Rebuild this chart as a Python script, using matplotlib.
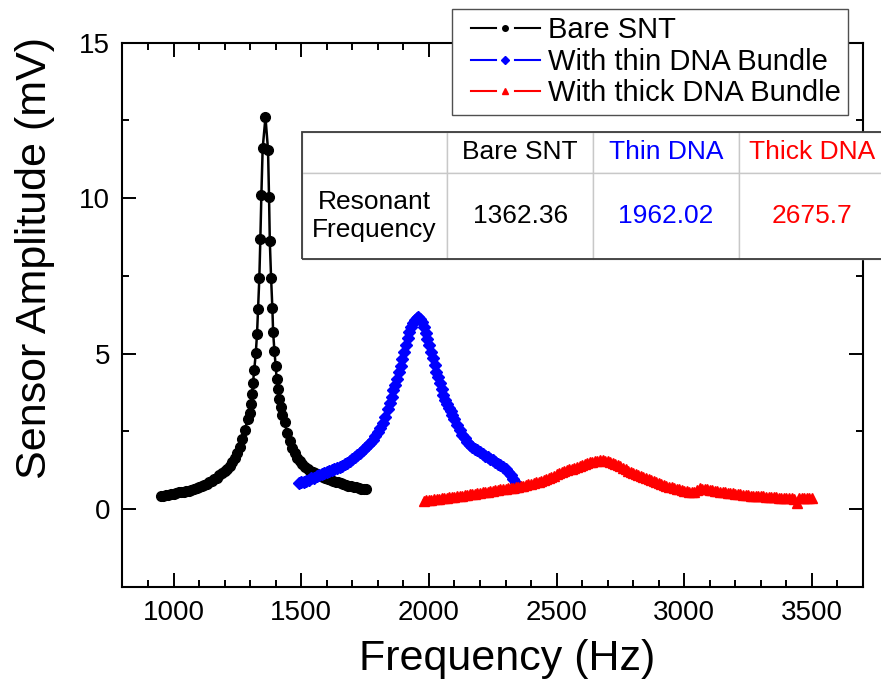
import matplotlib
matplotlib.use("Agg")
import matplotlib.pyplot as plt
from matplotlib.lines import Line2D
from matplotlib.legend_handler import HandlerBase
from matplotlib.patches import Rectangle
from matplotlib.ticker import MultipleLocator

plt.rcParams['font.family'] = ['Liberation Sans', 'DejaVu Sans']

# ---- data (Hz, mV) ----
bare_freq = [950, 960, 970, 980, 990, 1000, 1010, 1020, 1030, 1040,
             1050, 1060, 1070, 1080, 1090, 1100, 1110, 1120, 1130, 1140,
             1150, 1160, 1170, 1180, 1190, 1200, 1210, 1220, 1230, 1240,
             1250, 1260, 1270, 1280, 1290, 1298, 1302, 1307, 1311, 1316,
             1322, 1327, 1331, 1336, 1340, 1344, 1349, 1360, 1370, 1374,
             1377, 1382, 1387, 1390, 1395, 1400, 1404, 1409, 1414, 1420,
             1425, 1435, 1445, 1455, 1465, 1475, 1485, 1495, 1505, 1515,
             1525, 1535, 1545, 1555, 1565, 1575, 1585, 1595, 1605, 1615,
             1625, 1635, 1645, 1655, 1665, 1675, 1685, 1695, 1705, 1715,
             1725, 1735, 1745, 1752]
bare_amp = [0.42, 0.44, 0.45, 0.47, 0.49, 0.50, 0.52, 0.54, 0.55, 0.57,
            0.58, 0.60, 0.62, 0.65, 0.68, 0.71, 0.74, 0.78, 0.82, 0.86,
            0.91, 0.96, 1.02, 1.09, 1.16, 1.24, 1.30, 1.40, 1.52, 1.65,
            1.80, 2.00, 2.25, 2.55, 2.90, 3.11, 3.38, 3.70, 4.05, 4.48,
            5.01, 5.64, 6.44, 7.44, 8.70, 10.11, 11.60, 12.60, 11.56, 10.04,
            8.62, 7.44, 6.47, 5.69, 5.10, 4.60, 4.19, 3.87, 3.54, 3.30,
            3.04, 2.80, 2.45, 2.20, 1.98, 1.80, 1.66, 1.55, 1.45, 1.37,
            1.30, 1.24, 1.19, 1.15, 1.10, 1.06, 1.03, 1.00, 0.97, 0.94,
            0.91, 0.88, 0.86, 0.83, 0.81, 0.78, 0.76, 0.74, 0.72, 0.70,
            0.68, 0.66, 0.65, 0.64]

thin_freq = [1490, 1500, 1510, 1520, 1530, 1540, 1550, 1560, 1570, 1580,
             1590, 1600, 1610, 1620, 1630, 1640, 1650, 1660, 1670, 1680,
             1690, 1700, 1710, 1720, 1730, 1740, 1750, 1760, 1770, 1780,
             1790, 1800, 1810, 1820, 1830, 1840, 1847, 1854, 1861, 1868,
             1875, 1882, 1889, 1896, 1903, 1910, 1917, 1924, 1931, 1938,
             1945, 1952, 1959, 1966, 1973, 1980, 1987, 1994, 2001, 2008,
             2015, 2022, 2029, 2036, 2043, 2050, 2057, 2064, 2071, 2078,
             2085, 2092, 2100, 2110, 2120, 2130, 2140, 2150, 2160, 2170,
             2180, 2190, 2200, 2210, 2220, 2230, 2240, 2250, 2260, 2270,
             2280, 2290, 2300, 2310, 2320, 2330, 2340, 2347]
thin_amp = [0.83, 0.86, 0.89, 0.92, 0.95, 0.99, 1.02, 1.06, 1.09, 1.13,
            1.16, 1.19, 1.22, 1.25, 1.28, 1.32, 1.35, 1.39, 1.44, 1.49,
            1.54, 1.60, 1.67, 1.74, 1.81, 1.89, 1.97, 2.05, 2.14, 2.23,
            2.35, 2.48, 2.62, 2.78, 2.98, 3.22, 3.42, 3.62, 3.82, 4.00,
            4.20, 4.40, 4.60, 4.82, 5.05, 5.28, 5.50, 5.70, 5.87, 6.00,
            6.09, 6.15, 6.17, 6.12, 6.02, 5.86, 5.67, 5.47, 5.27, 5.07,
            4.86, 4.63, 4.41, 4.24, 4.05, 3.86, 3.67, 3.51, 3.38, 3.27,
            3.15, 3.04, 2.90, 2.72, 2.55, 2.40, 2.28, 2.17, 2.08, 2.01,
            1.95, 1.89, 1.83, 1.78, 1.72, 1.67, 1.62, 1.57, 1.52, 1.47,
            1.42, 1.36, 1.28, 1.20, 1.10, 0.97, 0.83, 0.72]

thick_freq = [1980, 1990, 2000, 2010, 2020, 2030, 2040, 2050, 2060, 2070,
              2080, 2090, 2100, 2110, 2120, 2130, 2140, 2150, 2160, 2170,
              2180, 2190, 2200, 2210, 2220, 2230, 2240, 2250, 2260, 2270,
              2280, 2290, 2300, 2310, 2320, 2330, 2340, 2350, 2360, 2370,
              2380, 2390, 2400, 2410, 2420, 2430, 2440, 2450, 2460, 2470,
              2480, 2490, 2500, 2510, 2520, 2530, 2540, 2550, 2560, 2570,
              2580, 2590, 2600, 2610, 2620, 2630, 2640, 2650, 2660, 2670,
              2680, 2690, 2700, 2710, 2720, 2730, 2740, 2750, 2760, 2770,
              2780, 2790, 2800, 2810, 2820, 2830, 2840, 2850, 2860, 2870,
              2880, 2890, 2900, 2910, 2920, 2930, 2940, 2950, 2960, 2970,
              2980, 2990, 3000, 3010, 3020, 3030, 3040, 3050, 3060, 3070,
              3080, 3090, 3100, 3110, 3120, 3130, 3140, 3150, 3160, 3170,
              3180, 3190, 3200, 3210, 3220, 3230, 3240, 3250, 3260, 3270,
              3280, 3290, 3300, 3310, 3320, 3330, 3340, 3350, 3360, 3370,
              3380, 3390, 3400, 3410, 3420, 3430, 3440, 3450, 3460, 3470,
              3480, 3490, 3500]
thick_amp = [0.28, 0.29, 0.30, 0.31, 0.32, 0.33, 0.34, 0.35, 0.36, 0.37,
             0.38, 0.39, 0.40, 0.42, 0.43, 0.44, 0.45, 0.46, 0.48, 0.49,
             0.50, 0.52, 0.53, 0.54, 0.56, 0.57, 0.58, 0.60, 0.61, 0.63,
             0.64, 0.65, 0.66, 0.67, 0.68, 0.69, 0.71, 0.72, 0.74, 0.76,
             0.78, 0.80, 0.82, 0.84, 0.86, 0.88, 0.91, 0.94, 0.97, 1.00,
             1.04, 1.08, 1.12, 1.16, 1.19, 1.22, 1.25, 1.28, 1.31, 1.34,
             1.37, 1.40, 1.43, 1.46, 1.49, 1.51, 1.53, 1.55, 1.56, 1.57,
             1.57, 1.56, 1.54, 1.52, 1.49, 1.46, 1.42, 1.38, 1.34, 1.29,
             1.24, 1.20, 1.16, 1.12, 1.09, 1.06, 1.03, 1.00, 0.97, 0.94,
             0.91, 0.88, 0.85, 0.82, 0.79, 0.76, 0.73, 0.70, 0.68, 0.66,
             0.64, 0.62, 0.60, 0.58, 0.56, 0.54, 0.55, 0.62, 0.67, 0.66,
             0.65, 0.64, 0.62, 0.61, 0.60, 0.58, 0.57, 0.56, 0.54, 0.53,
             0.52, 0.51, 0.50, 0.49, 0.48, 0.47, 0.46, 0.45, 0.44, 0.43,
             0.43, 0.42, 0.41, 0.41, 0.40, 0.39, 0.39, 0.38, 0.38, 0.37,
             0.37, 0.36, 0.36, 0.35, 0.35, 0.34, 0.21, 0.35, 0.36, 0.36,
             0.37, 0.37, 0.37]

series_labels = ['Bare SNT', 'With thin DNA Bundle', 'With thick DNA Bundle']
series_colors = ['black', 'blue', 'red']
series_markers = ['o', 'D', '^']

table_cols = ['', 'Bare SNT', 'Thin DNA', 'Thick DNA']
table_row = ['Resonant\nFrequency', '1362.36', '1962.02', '2675.7']
table_colors = ['black', 'black', 'blue', 'red']


class GapLineHandler(HandlerBase):
    # Origin style legend key: line - marker - line with gaps
    def create_artists(self, legend, orig_handle, xdescent, ydescent,
                       width, height, fontsize, trans):
        y = (height - ydescent) / 2
        x0 = -xdescent + 0.15 * width
        w = width * 0.85
        c = orig_handle.get_color()
        lw = orig_handle.get_linewidth()
        left = Line2D([x0, x0 + 0.36 * w], [y, y], color=c, lw=lw, transform=trans)
        right = Line2D([x0 + 0.64 * w, x0 + w], [y, y], color=c, lw=lw, transform=trans)
        mark = Line2D([x0 + 0.5 * w], [y], ls='none', color=c,
                      marker=orig_handle.get_marker(),
                      ms=orig_handle.get_markersize(), transform=trans)
        return [left, right, mark]


fig = plt.figure(figsize=(8.81, 6.91), dpi=100)
ax = fig.add_axes([0.139, 0.1505, 0.8406, 0.7877])

ax.plot(bare_freq, bare_amp, color='black', lw=1.8, marker='o', ms=7, zorder=3)
ax.plot(thin_freq, thin_amp, color='blue', lw=1.8, marker='D', ms=6, zorder=3)
ax.plot(thick_freq, thick_amp, color='red', lw=1.8, marker='^', ms=6.5, zorder=3)

ax.set_xlim(800, 3700)
ax.set_ylim(-2.5, 15)
ax.xaxis.set_major_locator(MultipleLocator(500))
ax.xaxis.set_minor_locator(MultipleLocator(100))
ax.yaxis.set_major_locator(MultipleLocator(5))
ax.yaxis.set_minor_locator(MultipleLocator(2.5))
ax.tick_params(which='both', direction='in', top=True, right=True,
               width=1.4, labelsize=20, pad=9)
ax.tick_params(which='major', length=10)
ax.tick_params(which='minor', length=5)
for sp in ax.spines.values():
    sp.set_linewidth(1.5)

ax.set_xlabel('Frequency (Hz)', fontsize=31)
ax.set_ylabel('Sensor Amplitude (mV)', fontsize=31)
ax.xaxis.set_label_coords(0.519, -0.095)
ax.yaxis.set_label_coords(-0.091, 0.605)

handles = [Line2D([], [], color=c, marker=m, ms=4, lw=1.5)
           for c, m in zip(series_colors, series_markers)]
leg = ax.legend(handles, series_labels, loc='upper left',
                bbox_to_anchor=(452 / 881, 1 - 9 / 691), bbox_transform=fig.transFigure,
                borderaxespad=0, fontsize=21, fancybox=False, framealpha=1,
                edgecolor='#505050', handlelength=2.75, handletextpad=0.3,
                labelspacing=0.12, borderpad=0.25,
                handler_map={Line2D: GapLineHandler()})
leg.get_frame().set_linewidth(1.0)
leg.set_zorder(8)

tbox = [0.2418, 0.6026, 0.7878, 0.2334]
tbl = ax.table(cellText=[table_row], colLabels=table_cols, cellLoc='center', bbox=tbox)
tbl.auto_set_font_size(False)
tbl.set_fontsize(19)
tbl.set_zorder(6)
for (r, c), cell in tbl.get_celld().items():
    cell.set_edgecolor('#c8c8c8')
    cell.set_linewidth(1.0)
    cell.set_facecolor('white')
    cell.set_height(41 if r == 0 else 86)
    cell.get_text().set_color(table_colors[c])
ax.add_patch(Rectangle(tbox[:2], tbox[2], tbox[3], transform=ax.transAxes,
                       fill=False, ec='#3c3c3c', lw=1.3, clip_on=False, zorder=7))

fig.savefig('out.png', dpi=100)
